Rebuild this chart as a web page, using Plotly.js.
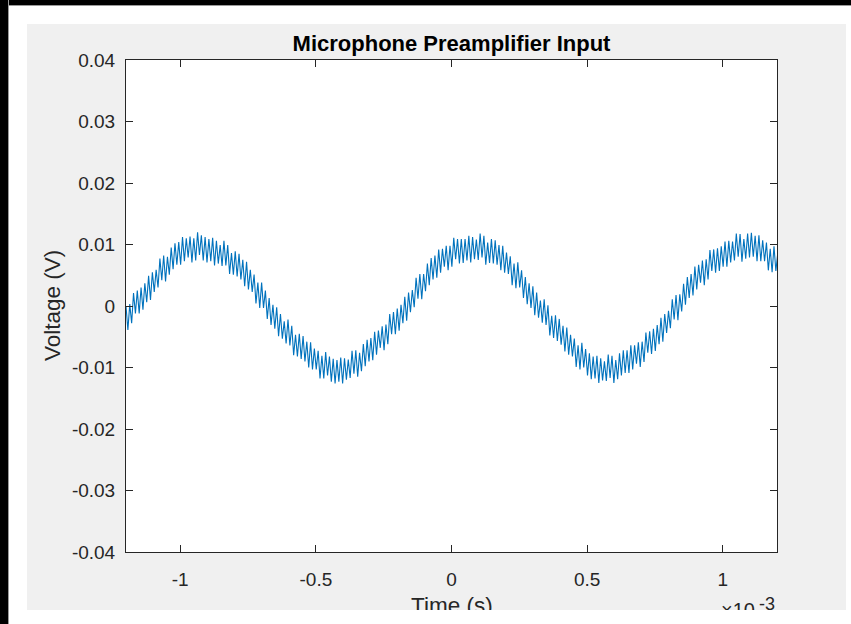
<!DOCTYPE html>
<html>
<head>
<meta charset="utf-8">
<script src="https://cdn.plot.ly/plotly-3.0.1.min.js"></script>
<style>
  html, body { margin:0; padding:0; background:#ffffff; }
  body { width:851px; height:624px; overflow:hidden; position:relative; }
  #topbar { position:absolute; left:0; top:0; width:851px; height:5px; background:#000; border-bottom:1px solid #9a9a9a; }
  #leftbar { position:absolute; left:0; top:0; width:8px; height:624px; background:#000; border-right:1px solid #9a9a9a; }
  #frame { position:absolute; left:27px; top:24px; width:819px; height:586px; overflow:hidden; background:#f0f0f0; }
  #plot { width:819px; height:620px; }
</style>
</head>
<body>
<div id="topbar"></div>
<div id="leftbar"></div>
<div id="frame"><div id="plot"></div></div>
<script>
// Time axis: samples start at -1.2 ms, 144 samples per millisecond
const tStart = -1.2e-3;
const tStep = 1e-3 / 144;

// Measured voltage samples (V)
const voltage = [
  0.0000,-0.0039,0.0003,-0.0028,0.0021,-0.0012,0.0025,-0.0012,0.0030,-0.0006,
  0.0037,0.0006,0.0049,0.0010,0.0055,0.0023,0.0059,0.0030,0.0077,0.0042,
  0.0082,0.0040,0.0080,0.0051,0.0095,0.0060,0.0102,0.0067,0.0104,0.0067,
  0.0112,0.0073,0.0110,0.0079,0.0113,0.0071,0.0110,0.0074,0.0120,0.0083,
  0.0115,0.0074,0.0112,0.0071,0.0109,0.0073,0.0111,0.0066,0.0106,0.0069,
  0.0099,0.0065,0.0106,0.0066,0.0099,0.0052,0.0086,0.0051,0.0089,0.0048,
  0.0085,0.0043,0.0075,0.0032,0.0072,0.0027,0.0059,0.0023,0.0051,0.0004,
  0.0038,-0.0003,0.0038,-0.0003,0.0025,-0.0021,0.0013,-0.0031,0.0002,-0.0037,
  -0.0002,-0.0049,-0.0013,-0.0053,-0.0025,-0.0061,-0.0022,-0.0064,-0.0032,-0.0080,
  -0.0047,-0.0082,-0.0045,-0.0086,-0.0049,-0.0090,-0.0058,-0.0100,-0.0059,-0.0103,
  -0.0069,-0.0103,-0.0073,-0.0118,-0.0081,-0.0118,-0.0075,-0.0113,-0.0082,-0.0123,
  -0.0086,-0.0126,-0.0088,-0.0123,-0.0084,-0.0126,-0.0085,-0.0120,-0.0087,-0.0117,
  -0.0073,-0.0110,-0.0072,-0.0115,-0.0076,-0.0106,-0.0062,-0.0098,-0.0055,-0.0090,
  -0.0052,-0.0088,-0.0042,-0.0079,-0.0040,-0.0068,-0.0033,-0.0072,-0.0030,-0.0062,
  -0.0013,-0.0046,-0.0010,-0.0046,-0.0004,-0.0040,0.0002,-0.0028,0.0015,-0.0024,
  0.0022,-0.0010,0.0026,-0.0002,0.0046,0.0012,0.0052,0.0011,0.0052,0.0024,
  0.0069,0.0034,0.0078,0.0043,0.0082,0.0046,0.0092,0.0054,0.0093,0.0064,
  0.0098,0.0058,0.0098,0.0064,0.0111,0.0076,0.0109,0.0069,0.0109,0.0070,
  0.0109,0.0074,0.0114,0.0071,0.0112,0.0076,0.0108,0.0075,0.0118,0.0079,
  0.0114,0.0067,0.0103,0.0070,0.0109,0.0069,0.0107,0.0067,0.0099,0.0058,
  0.0098,0.0054,0.0087,0.0052,0.0081,0.0034,0.0069,0.0029,0.0071,0.0030,
  0.0058,0.0013,0.0047,0.0003,0.0037,-0.0003,0.0032,-0.0015,0.0022,-0.0019,
  0.0009,-0.0027,0.0011,-0.0031,0.0001,-0.0048,-0.0016,-0.0052,-0.0015,-0.0057,
  -0.0021,-0.0063,-0.0032,-0.0074,-0.0035,-0.0079,-0.0047,-0.0082,-0.0053,-0.0099,
  -0.0064,-0.0103,-0.0060,-0.0100,-0.0070,-0.0113,-0.0077,-0.0119,-0.0082,-0.0118,
  -0.0081,-0.0125,-0.0085,-0.0121,-0.0090,-0.0122,-0.0079,-0.0117,-0.0081,-0.0125,
  -0.0088,-0.0119,-0.0077,-0.0113,-0.0072,-0.0109,-0.0072,-0.0109,-0.0064,-0.0103,
  -0.0064,-0.0094,-0.0059,-0.0099,-0.0058,-0.0091,-0.0043,-0.0076,-0.0041,-0.0078,
  -0.0037,-0.0073,-0.0031,-0.0062,-0.0019,-0.0058,-0.0013,-0.0044,-0.0008,-0.0036,
  0.0011,-0.0022,0.0018,-0.0023,0.0019,-0.0009,0.0036,0.0002,0.0047,0.0013,
  0.0052,0.0017,0.0064,0.0027,0.0067,0.0038,0.0074,0.0034,0.0076,0.0043,
  0.0091,0.0057,0.0092,0.0054,0.0094,0.0057,0.0097,0.0064,0.0105,0.0064,
  0.0106,0.0071,0.0105,0.0074,0.0118,0.0080,0.0117,0.0072,0.0109,0.0077,
  0.0118,0.0079,0.0119,0.0080,0.0114,0.0073,0.0115,0.0073,0.0107,0.0073,
  0.0103,0.0058,0.0093,0.0055,0.0097,0.0057,0.0086
];

// Axis ticks
const xTickVals = [-1e-3, -0.5e-3, 0, 0.5e-3, 1e-3];
const xTickText = ['-1', '-0.5', '0', '0.5', '1'];
const yTickVals = [-0.04, -0.03, -0.02, -0.01, 0, 0.01, 0.02, 0.03, 0.04];
const yTickText = ['-0.04', '-0.03', '-0.02', '-0.01', '0', '0.01', '0.02', '0.03', '0.04'];

const FONT = 'Liberation Sans, Arial, Helvetica, sans-serif';
const AX = '#262626';

const trace = {
  type: 'scatter',
  mode: 'lines',
  x0: tStart,
  dx: tStep,
  y: voltage,
  line: { color: '#0072BD', width: 1.1, simplify: false },
  hoverinfo: 'skip'
};

const axisCommon = {
  ticks: 'inside', ticklen: 7, tickwidth: 1, tickcolor: AX,
  showline: true, linecolor: AX, linewidth: 1, mirror: 'ticks',
  showgrid: false, zeroline: false,
  tickfont: { family: FONT, size: 19, color: AX },
  tickmode: 'array'
};

const layout = {
  width: 819, height: 620,
  margin: { l: 99, r: 69, t: 36, b: 92, pad: 0 },
  paper_bgcolor: '#f0f0f0',
  plot_bgcolor: '#ffffff',
  showlegend: false,
  hovermode: false,
  font: { family: FONT, color: AX },
  title: {
    text: '<b>Microphone Preamplifier Input</b>',
    font: { family: FONT, size: 22, color: '#000000' },
    x: 0.5, xref: 'paper', xanchor: 'center',
    y: 1 - 19 / 620, yref: 'container', yanchor: 'middle'
  },
  xaxis: Object.assign({}, axisCommon, {
    range: [-1.2e-3, 1.2e-3],
    tickvals: xTickVals, ticktext: xTickText,
    ticklabelstandoff: 10
  }),
  yaxis: Object.assign({}, axisCommon, {
    range: [-0.04, 0.04],
    tickvals: yTickVals, ticktext: yTickText,
    ticklabelstandoff: 6
  }),
  annotations: [
    { text: 'Time (s)', xref: 'paper', yref: 'paper', x: 0.5, y: -(605 - 552) / 492,
      xanchor: 'center', yanchor: 'middle', showarrow: false,
      font: { family: FONT, size: 22.5, color: AX } },
    { text: 'Voltage (V)', xref: 'paper', yref: 'paper', x: (52 - 126) / 651, y: 0.5,
      xanchor: 'center', yanchor: 'middle', textangle: -90, showarrow: false,
      font: { family: FONT, size: 22.5, color: AX } },
    { text: '×10', xref: 'paper', yref: 'paper', x: (757 - 126) / 651, y: -(610 - 552) / 492,
      xanchor: 'right', yanchor: 'middle', showarrow: false,
      font: { family: FONT, size: 20, color: AX } },
    { text: '-3', xref: 'paper', yref: 'paper', x: (757 - 126) / 651, y: -(604 - 552) / 492,
      xanchor: 'left', yanchor: 'middle', showarrow: false,
      font: { family: FONT, size: 18, color: AX } }
  ]
};

Plotly.newPlot('plot', [trace], layout, { staticPlot: true, displayModeBar: false });
</script>
</body>
</html>
